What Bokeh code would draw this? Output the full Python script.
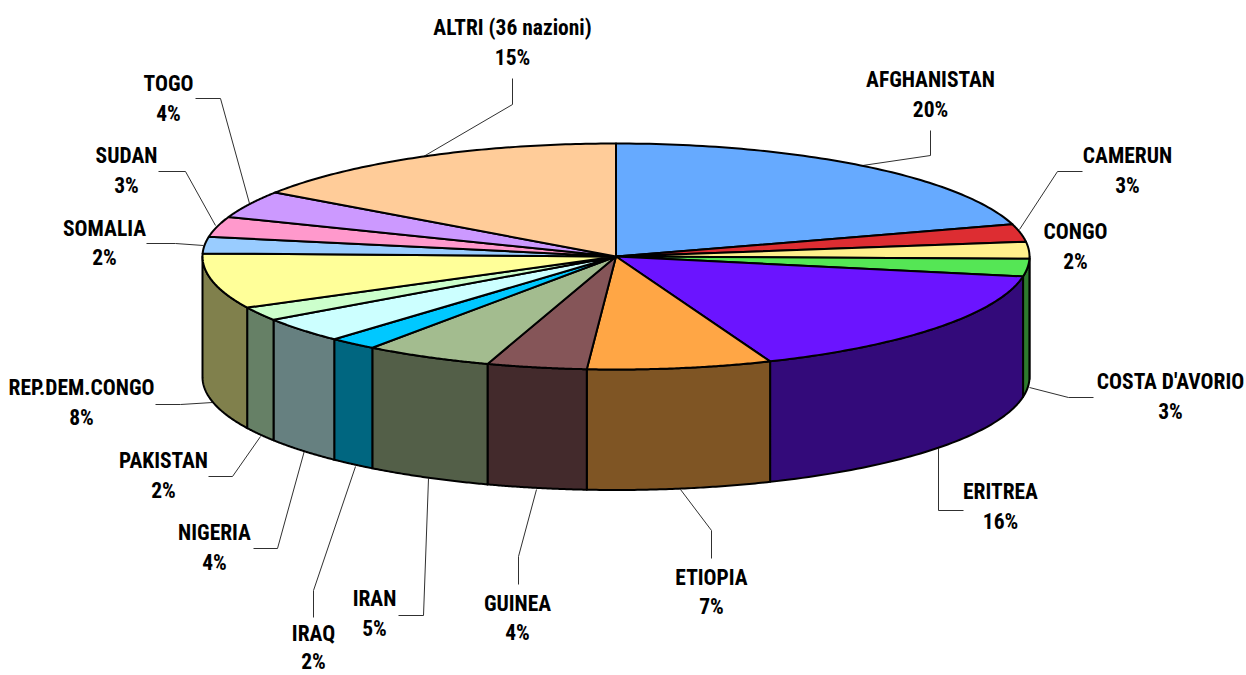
import numpy as np
from bokeh.plotting import figure
from bokeh.models import Range1d
from bokeh.core.properties import value
from bokeh.embed import file_html
from bokeh.resources import INLINE

countries = ["AFGHANISTAN", "CAMERUN", "CONGO", "COSTA D'AVORIO", "ERITREA", "ETIOPIA", "GUINEA", "IRAN",
             "IRAQ", "NIGERIA", "PAKISTAN", "REP.DEM.CONGO", "SOMALIA", "SUDAN", "TOGO", "ALTRI (36 nazioni)"]
pct_labels = ["20%", "3%", "2%", "3%", "16%", "7%", "4%", "5%", "2%", "4%", "2%", "8%", "2%", "3%", "4%", "15%"]
shares = [20.4, 2.5, 2.4, 2.5, 16.1, 7.2, 3.9, 5.0, 1.9, 3.6, 2.0, 7.9, 2.35, 2.9, 3.9, 15.4]
top_colors = ["#66AAFF", "#DD2D32", "#FFF08C", "#55E655", "#6B14FF", "#FFA645", "#855558", "#A3BC8F",
              "#00C8FF", "#CCFFFF", "#CCFFCC", "#FFFF99", "#99CCFF", "#FF99CC", "#CC99FF", "#FFCC99"]
side_colors = ["#335580", "#6E1619", "#807846", "#2E7A2E", "#330A7A", "#7F5524", "#432A2C", "#535F48",
               "#006680", "#668080", "#668066", "#80804C", "#4C6680", "#804C66", "#664C80", "#80664C"]

# layout (page pixels)
CX, CY, RX, RY, DEPTH = 615.5, 256.0, 413.5, 113.0, 120.5
label_x = [930, 1127, 1075, 1170, 1000, 711, 517, 374, 313, 214, 163, 81, 104, 126, 168, 512]
name_y = [79, 155, 231, 381, 491, 577, 603, 598, 633, 532, 460, 387, 228, 155, 83, 27]
pct_y = [109, 185, 261, 411, 521, 606, 632, 628, 661, 562, 490, 417, 257, 185, 113, 57]
leaders_x = [[930, 930, 862], [1082, 1057, 1019], [], [1093, 1068, 1029], [963, 938, 938], [711, 711, 680],
             [518, 518, 536], [398, 423, 428], [313, 313, 355], [253, 277, 304], [208, 232, 260],
             [155, 180, 212], [146, 175, 203], [158, 185, 215], [195, 220, 249], [512, 512, 423]]
leaders_y = [[130, 155, 165], [171, 171, 229], [], [397, 397, 387], [510, 510, 448], [558, 530, 489],
             [584, 556, 489], [615, 615, 478], [617, 590, 466], [548, 548, 450], [476, 476, 436],
             [404, 404, 402], [243, 243, 245], [171, 171, 225], [98, 98, 203], [78, 104, 156]]

font = value("Roboto Condensed, DejaVu Sans Condensed, Roboto")

p = figure(width=1246, height=675, output_backend="svg", toolbar_location=None,
           x_range=Range1d(0, 1246), y_range=Range1d(675, 0), min_border=0)
p.axis.visible = False
p.grid.visible = False
p.outline_line_color = None
p.background_fill_color = "white"
p.border_fill_color = "white"


def ex(t):
    return CX + RX * np.sin(t)


def ey(t):
    return CY - RY * np.cos(t)


edges = np.concatenate([[0], np.cumsum(shares)]) / sum(shares) * 2 * np.pi

wall_xs, wall_ys, wall_cols = [], [], []
top_xs, top_ys, top_cols = [], [], []
for i, col in enumerate(top_colors):
    a, b = edges[i], edges[i + 1]
    t = np.linspace(a, b, 80)
    top_xs.append(np.concatenate([[CX], ex(t)]))
    top_ys.append(np.concatenate([[CY], ey(t)]))
    top_cols.append(col)
    lo, hi = max(a, np.pi / 2), min(b, 3 * np.pi / 2)
    if lo < hi:
        w = np.linspace(lo, hi, 60)
        wall_xs.append(np.concatenate([ex(w), ex(w)[::-1]]))
        wall_ys.append(np.concatenate([ey(w), (ey(w) + DEPTH)[::-1]]))
        wall_cols.append(side_colors[i])

lx = [x for x in leaders_x if x]
ly = [y for y in leaders_y if y]
p.multi_line(lx, ly, line_color="#303030", line_width=1)
p.patches(wall_xs, wall_ys, fill_color=wall_cols, line_color="black", line_width=2, line_join="round")
p.patches(top_xs, top_ys, fill_color=top_cols, line_color="black", line_width=2, line_join="round")

p.text(label_x, name_y, text=countries, text_font=font, text_font_style="bold", text_font_size="21.5px",
       text_align="center", text_baseline="middle", text_color="black")
p.text(label_x, pct_y, text=pct_labels, text_font=font, text_font_style="bold", text_font_size="21.5px",
       text_align="center", text_baseline="middle", text_color="black")

open("out.html", "w").write(file_html(p, INLINE))
